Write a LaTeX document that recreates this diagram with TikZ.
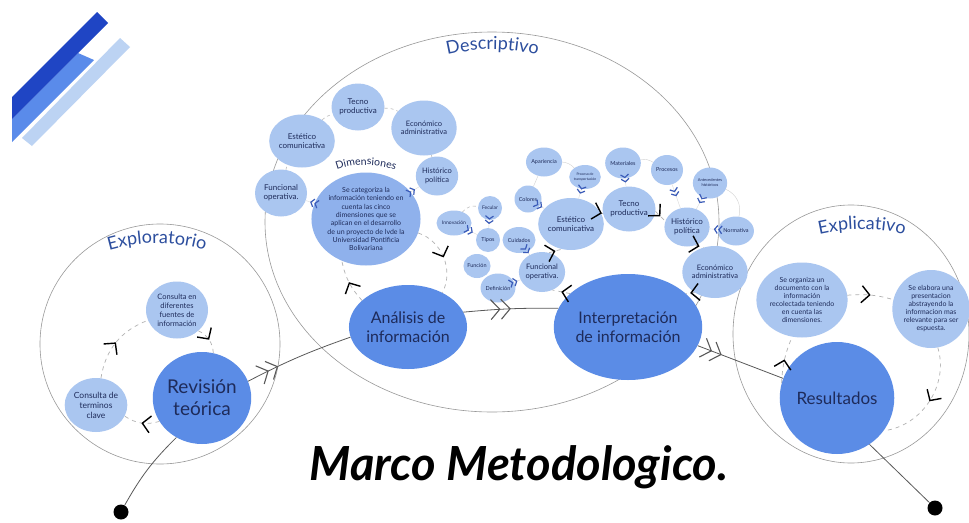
\documentclass[tikz,border=0pt]{standalone}
\usepackage{fontspec}
\setmainfont{Lato}
\usetikzlibrary{shapes.geometric,arrows.meta,decorations.markings,decorations.text}
\definecolor{dkblue}{HTML}{5B8CE6}
\definecolor{ltblue}{HTML}{AAC6F0}
\definecolor{dimblue}{HTML}{8FB1EC}
\definecolor{navy}{HTML}{1E2B5A}
\definecolor{lblue}{HTML}{2C4E9E}
\definecolor{bmark}{HTML}{3A5BB8}
\definecolor{stripeA}{HTML}{1F45C4}
\definecolor{stripeB}{HTML}{5A8BEA}
\definecolor{stripeC}{HTML}{BCD3F3}
\newcommand{\fs}[2]{\fontsize{#1}{#2}\selectfont}
\begin{document}
\begin{tikzpicture}[x=1pt,y=-1pt,
  bigc/.style={ellipse, fill=dkblue, text=navy, align=center, inner sep=0pt},
  smc/.style={ellipse, fill=ltblue, text=navy, align=center, inner sep=0pt},
  outl/.style={draw=gray!80, line width=0.6pt, inner sep=0pt},
  mainln/.style={draw=gray!70!black, line width=0.8pt},
  mcon/.style={mainln, decoration={markings, mark=at position #1 with {\arrow[gray!70!black,line width=1.1pt]{Straight Barb[length=9pt,width=20pt] Straight Barb[length=9pt,width=20pt]}}}, postaction={decorate}},
  dcon/.style={draw=gray!60, line width=0.7pt, dash pattern=on 4pt off 4pt, decoration={markings, mark=at position #1 with {\arrow[black,line width=1.4pt]{Straight Barb[length=8pt,width=17pt]}}}, postaction={decorate}},
  dcon/.default=0.5,
  dring/.style={draw=gray!50, line width=0.6pt, dash pattern=on 3pt off 3pt},
  lightln/.style={draw=gray!35, line width=0.4pt},
  bcon/.style={draw=gray!30, line width=0.4pt, decoration={markings, mark=at position 0.5 with {\arrow[bmark,line width=1.2pt]{Straight Barb[length=3pt,width=8pt] Straight Barb[length=3pt,width=8pt]}}}, postaction={decorate}},
  lbl/.style={decorate, decoration={text along path, text align=center, text color=lblue, text={|\fs{18}{18}|#1}}},
]
\fill[white] (0,0) rectangle (969,522);
\useasboundingbox (0,0) rectangle (969,522);

% decorative stripes
\fill[stripeC] (120,38) -- (130,47) -- (32,146) -- (22,138) -- cycle;
\fill[stripeB] (78,53) -- (94,60) -- (12,142) -- (12,119) -- cycle;
\fill[stripeA] (97,12) -- (108,23) -- (12,119) -- (12,97) -- cycle;

% frames
\node[outl, ellipse, minimum width=454pt, minimum height=380pt] (desc) at (492,222) {};
\node[outl, circle, minimum size=240pt] (explo) at (160,344) {};
\node[outl, ellipse, minimum width=236pt, minimum height=258pt] (expli) at (851,334) {};

% curved labels
\path[lbl=Descriptivo] (430,60) .. controls (470,46) and (515,46) .. (555,60);
\path[lbl=Exploratorio] (92,256) .. controls (135,239) and (180,239) .. (222,256);
\path[lbl=Explicativo] (800,240) .. controls (840,226) and (885,226) .. (924,240);
\path[decorate, decoration={text along path, text align=center, text color=navy, text={|\fs{10.5}{10.5}|Dimensiones}}] (328,174) .. controls (350,162) and (382,162) .. (404,174);

% Exploratorio nodes
\node[bigc, minimum width=96pt, minimum height=92pt, font=\fs{19}{22}] (rev) at (202,398) {Revisión\\teórica};
\node[smc, minimum width=62pt, minimum height=57pt, font=\fs{7.5}{9}] (cfu) at (177,310) {Consulta en\\diferentes\\fuentes de\\información};
\node[smc, minimum width=62pt, minimum height=54pt, font=\fs{8.5}{10}] (cte) at (96,405) {Consulta de\\terminos\\clave};

% Descriptivo nodes
\node[bigc, minimum width=106pt, minimum height=84pt, font=\fs{16}{19}] (ana) at (408,327) {Análisis de\\información};
\node[bigc, minimum width=126pt, minimum height=106pt, font=\fs{16}{19}] (int) at (628,327) {Interpretación\\de información};
\node[ellipse, fill=dimblue, text=navy, align=center, inner sep=0pt, minimum width=100pt, minimum height=93pt, font=\fs{7}{8.3}] (dim) at (366,219) {Se categoriza la\\información teniendo en\\cuenta las cinco\\dimensiones que se\\aplican en el desarrollo\\de un proyecto de lvde la\\Universidad Pontificia\\Bolivariana};
\node[smc, minimum width=50pt, minimum height=47pt, font=\fs{8}{9}] (tec1) at (358,107) {Tecno\\productiva};
\node[smc, minimum width=57pt, minimum height=55pt, font=\fs{7.5}{8.5}] (eco1) at (424,128) {Económico\\administrativa};
\node[smc, minimum width=57pt, minimum height=53pt, font=\fs{8}{9}] (est1) at (302,141) {Estético\\comunicativa};
\node[smc, minimum width=41pt, minimum height=39pt, font=\fs{7.5}{8.5}] (his1) at (437,176) {Histórico\\política};
\node[smc, minimum width=52pt, minimum height=47pt, font=\fs{8}{9}] (fun1) at (281,193) {Funcional\\operativa.};

\node[smc, minimum width=42pt, minimum height=40pt, font=\fs{7.5}{8.5}] (fun2) at (542,272) {Funcional\\operativa.};
\node[smc, minimum width=56pt, minimum height=52pt, font=\fs{8}{9}] (est2) at (571,224) {Estético\\comunicativa};
\node[smc, minimum width=46pt, minimum height=45pt, font=\fs{8}{9}] (tec2) at (629,209) {Tecno\\productiva};
\node[smc, minimum width=41pt, minimum height=39pt, font=\fs{8}{9}] (his2) at (687,227) {Histórico\\política};
\node[smc, minimum width=56pt, minimum height=52pt, font=\fs{7.5}{8.5}] (eco2) at (715,272) {Económico\\administrativa};
\node[smc, minimum width=32pt, minimum height=29pt, font=\fs{5.5}{6.5}] (nor) at (736,231) {Normativa};
\node[smc, minimum width=33pt, minimum height=31pt, font=\fs{4}{5}] (ant) at (710,183) {Antecedentes\\históricos};
\node[smc, minimum width=32pt, minimum height=30pt, font=\fs{5.5}{6.5}] (pro) at (667,170) {Procesos};
\node[smc, minimum width=34pt, minimum height=31pt, font=\fs{5.5}{6.5}] (mat) at (623,163) {Materiales};
\node[smc, minimum width=30pt, minimum height=24pt, font=\fs{3.5}{4.2}] (pdt) at (585,177) {Proceso de\\transportación};
\node[smc, minimum width=32pt, minimum height=29pt, font=\fs{5.5}{6.5}] (apa) at (544,162) {Apariencia};
\node[smc, minimum width=27pt, minimum height=27pt, font=\fs{5.5}{6.5}] (col) at (528,199) {Colores};
\node[smc, minimum width=33pt, minimum height=26pt, font=\fs{5.5}{6.5}] (cui) at (519,240) {Cuidados};
\node[smc, minimum width=24pt, minimum height=24pt, font=\fs{5.5}{6.5}] (tip) at (488,240) {Tipos};
\node[smc, minimum width=24pt, minimum height=24pt, font=\fs{5}{6}] (fec) at (490,208) {Fecular};
\node[smc, minimum width=35pt, minimum height=25pt, font=\fs{5}{6}] (inn) at (454,223) {Innovación};
\node[smc, minimum width=26pt, minimum height=24pt, font=\fs{5.5}{6.5}] (fnc) at (477,266) {Función};
\node[smc, minimum width=31pt, minimum height=29pt, font=\fs{5.5}{6.5}] (def) at (498,288) {Definición};

% Explicativo nodes
\node[smc, minimum width=77pt, minimum height=75pt, font=\fs{7}{8}] (org) at (802,300) {Se organiza un\\documento con la\\información\\recolectada teniendo\\en cuenta las\\dimensiones.};
\node[smc, minimum width=77pt, minimum height=78pt, font=\fs{7}{8}] (ela) at (931,309) {Se elabora una\\presentacion\\abstrayendo la\\informacion mas\\relevante para ser\\espuesta.};
\node[bigc, minimum width=100pt, minimum height=112pt, font=\fs{17}{20}] (res) at (837,398) {Resultados};

% end dots and title
\node[circle, fill=black, minimum size=15pt, inner sep=0pt] (d1) at (121,512) {};
\node[circle, fill=black, minimum size=15pt, inner sep=0pt] (d2) at (935,508) {};
\node[font=\fs{47}{51}\bfseries\itshape, text=black] (title) at (519,467) {Marco Metodologico.};

% main path
\draw[mainln] (d1) to[bend left=8] (rev.237);
\draw[mcon=0.3] (rev.20) to[bend left=4] (ana.190);
\draw[mcon=0.5] (ana.15) to[bend left=3] (int.165);
\draw[mcon=0.28] (int.-15) -- (res.160);
\draw[mainln] (res.-55) -- (d2);

% Exploratorio cycle
\draw[dcon] (cte) to[bend left=30] (cfu);
\draw[dcon] (cfu) to[bend left=30] (rev);
\draw[dcon] (rev) to[bend left=25] (cte);

% Descriptivo: dimensiones
\draw[dcon] (ana.150) to[bend left=15] (dim.240);
\draw[dcon] (dim.-15) to[bend left=50] (ana.45);
\draw[dring] (fun1) to[bend left=10] (est1);
\draw[dring] (est1) to[bend left=15] (tec1);
\draw[dring] (tec1) to[bend left=15] (eco1);
\draw[dring] (eco1) -- (his1);
\draw[bcon] (dim) -- (fun1);
\draw[bcon] (dim) -- (his1);

% Descriptivo: interpretation cycle
\draw[dcon] (int.150) -- (fun2.-60);
\draw[dcon] (fun2.70) -- (est2.250);
\draw[dcon] (est2.20) -- (tec2.190);
\draw[dcon] (tec2.-5) -- (his2.165);
\draw[dcon] (his2.-65) -- (eco2.115);
\draw[dcon] (eco2.225) -- (int.30);

\draw[bcon] (col) -- (est2);
\draw[bcon] (pdt) -- (est2);
\draw[bcon] (cui) -- (fun2);
\draw[bcon] (def) -- (fun2);
\draw[bcon] (fec) -- (tip);
\draw[bcon] (inn) -- (tip);
\draw[bcon] (mat) -- (tec2);
\draw[bcon] (pro) -- (his2);
\draw[bcon] (ant) -- (his2);
\draw[bcon] (nor) -- (his2);
\draw[lightln] (apa) -- (col);
\draw[lightln] (apa) to[bend left=20] (pdt);
\draw[lightln] (mat) to[bend left=20] (pro);
\draw[lightln] (ant) to[bend left=40] (nor);
\draw[dring] (inn) to[bend left=30] (fec);

% Explicativo cycle
\draw[dcon] (org) to[bend left=10] (ela);
\draw[dcon] (ela.-80) to[bend left=50] (res.-35);
\draw[dcon] (res.165) to[bend left=10] (org.255);
\end{tikzpicture}
\end{document}
